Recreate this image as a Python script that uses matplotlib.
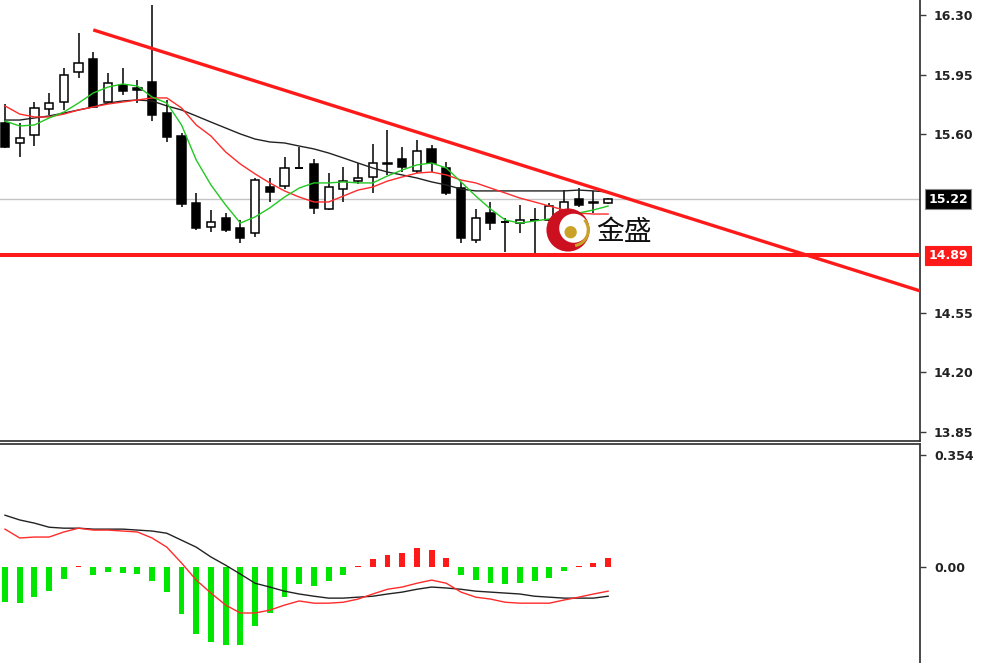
import matplotlib
matplotlib.use('Agg')
import matplotlib.pyplot as plt
import matplotlib.patches as patches
import matplotlib.transforms as mtransforms
import numpy as np

# ---------------------------------------------------------------------------
# Data
# ---------------------------------------------------------------------------
opens = [15.668, 15.550, 15.597, 15.750, 15.791, 15.968, 16.044, 15.791, 15.891, 15.873,
         15.909, 15.726, 15.591, 15.197, 15.056, 15.109, 15.050, 15.021, 15.291, 15.297,
         15.403, 15.426, 15.162, 15.279, 15.326, 15.350, 15.432, 15.456, 15.385, 15.515,
         15.403, 15.285, 14.979, 15.138, 15.085, 15.079, 15.097, 15.097, 15.144, 15.220,
         15.203, 15.197]
highs = [15.779, 15.668, 15.791, 15.844, 15.991, 16.197, 16.085, 15.962, 15.991, 15.920,
         16.362, 15.803, 15.609, 15.256, 15.156, 15.138, 15.097, 15.344, 15.344, 15.468,
         15.526, 15.456, 15.373, 15.409, 15.432, 15.544, 15.626, 15.526, 15.568, 15.538,
         15.438, 15.321, 15.162, 15.203, 15.109, 15.185, 15.168, 15.197, 15.273, 15.285,
         15.267, 15.226]
lows = [15.520, 15.468, 15.532, 15.715, 15.744, 15.932, 15.756, 15.785, 15.832, 15.785,
        15.679, 15.556, 15.173, 15.038, 15.026, 15.026, 14.962, 14.997, 15.203, 15.279,
        15.397, 15.132, 15.156, 15.203, 15.309, 15.256, 15.362, 15.379, 15.373, 15.379,
        15.244, 14.962, 14.962, 15.038, 14.909, 15.021, 14.903, 15.091, 15.097, 15.173,
        15.138, 15.191]
closes = [15.526, 15.579, 15.756, 15.785, 15.950, 16.020, 15.762, 15.903, 15.856, 15.862,
          15.715, 15.585, 15.191, 15.050, 15.085, 15.038, 14.991, 15.332, 15.262, 15.403,
          15.400, 15.168, 15.291, 15.326, 15.344, 15.432, 15.426, 15.409, 15.503, 15.432,
          15.256, 14.991, 15.109, 15.079, 15.083, 15.097, 15.095, 15.179, 15.203, 15.185,
          15.197, 15.220]

ma_fast = [15.679, 15.650, 15.656, 15.697, 15.732, 15.785, 15.844, 15.879, 15.897, 15.885,
           15.820, 15.785, 15.656, 15.450, 15.303, 15.185, 15.079, 15.115, 15.168, 15.232,
           15.285, 15.315, 15.315, 15.321, 15.315, 15.315, 15.356, 15.391, 15.421, 15.432,
           15.403, 15.321, 15.238, 15.162, 15.097, 15.079, 15.091, 15.103, 15.115, 15.138,
           15.156, 15.179]
ma_mid = [15.768, 15.720, 15.703, 15.703, 15.720, 15.744, 15.762, 15.779, 15.791, 15.803,
          15.815, 15.815, 15.756, 15.656, 15.591, 15.497, 15.426, 15.368, 15.315, 15.268,
          15.232, 15.203, 15.203, 15.238, 15.273, 15.291, 15.326, 15.350, 15.373, 15.379,
          15.362, 15.332, 15.315, 15.285, 15.256, 15.226, 15.203, 15.179, 15.156, 15.138,
          15.132, 15.132]
ma_slow = [15.685, 15.685, 15.697, 15.709, 15.726, 15.744, 15.762, 15.785, 15.797, 15.803,
           15.797, 15.768, 15.744, 15.709, 15.673, 15.638, 15.603, 15.573, 15.556, 15.550,
           15.532, 15.515, 15.491, 15.462, 15.432, 15.403, 15.379, 15.362, 15.344, 15.321,
           15.303, 15.279, 15.268, 15.268, 15.268, 15.268, 15.268, 15.268, 15.268, 15.273,
           15.268, 15.262]

macd_hist = [-0.111, -0.114, -0.095, -0.076, -0.038, 0.002, -0.025, -0.016, -0.019, -0.022,
             -0.044, -0.079, -0.149, -0.212, -0.237, -0.246, -0.246, -0.186, -0.145, -0.095,
             -0.054, -0.060, -0.044, -0.025, 0.002, 0.025, 0.038, 0.044, 0.060, 0.054,
             0.028, -0.025, -0.041, -0.051, -0.054, -0.051, -0.044, -0.035, -0.013, 0.003,
             0.013, 0.028]
macd_slow = [0.164, 0.149, 0.139, 0.126, 0.123, 0.123, 0.120, 0.120, 0.120, 0.117,
             0.114, 0.107, 0.085, 0.063, 0.032, 0.006, -0.022, -0.051, -0.063, -0.076,
             -0.085, -0.092, -0.098, -0.098, -0.095, -0.092, -0.085, -0.079, -0.070, -0.063,
             -0.066, -0.070, -0.076, -0.079, -0.082, -0.085, -0.092, -0.095, -0.098, -0.098,
             -0.098, -0.092]
macd_fast = [0.120, 0.092, 0.095, 0.095, 0.111, 0.123, 0.117, 0.117, 0.114, 0.111,
             0.092, 0.063, 0.013, -0.041, -0.082, -0.120, -0.145, -0.145, -0.136, -0.120,
             -0.107, -0.114, -0.114, -0.111, -0.101, -0.085, -0.070, -0.063, -0.051, -0.041,
             -0.051, -0.079, -0.095, -0.101, -0.111, -0.114, -0.114, -0.114, -0.104, -0.095,
             -0.085, -0.076]

trend_x = [6.0, 62.2]
trend_y = [16.215, 14.68]
support_level = 14.89
last_price = 15.22
price_ticks = [13.85, 14.20, 14.55, 15.60, 15.95, 16.30]

# ---------------------------------------------------------------------------
# Layout
# ---------------------------------------------------------------------------
W, H = 981, 663
fig = plt.figure(figsize=(W / 100, H / 100), dpi=100)
fig.patch.set_facecolor('white')

right_px = 920
ax = fig.add_axes([0, 1 - 441 / H, right_px / W, 441 / H])
ax2 = fig.add_axes([0, 0, right_px / W, (H - 444) / H])

SPINE = '#3a3a3a'
TXT = '#222222'
n = len(opens)
idx = np.arange(n)

# --- candles ---
body_w = 0.56
for i in range(n):
    o, h, l, c = opens[i], highs[i], lows[i], closes[i]
    ax.vlines(i, l, h, color='black', linewidth=1.1, zorder=4)
    bottom = min(o, c)
    height = abs(c - o)
    if height < 0.004:
        ax.hlines(bottom, i - body_w / 2, i + body_w / 2, color='black', linewidth=1.4, zorder=5)
    else:
        face = 'black' if c < o else 'white'
        ax.add_patch(patches.Rectangle((i - body_w / 2, bottom), body_w, height,
                                       facecolor=face, edgecolor='black', linewidth=1.1, zorder=5))

# --- moving averages ---
ax.plot(idx, ma_slow, color='#222222', linewidth=1.0, zorder=6)
ax.plot(idx, ma_mid, color='#ff2a2a', linewidth=1.0, zorder=6)
ax.plot(idx, ma_fast, color='#22c822', linewidth=1.0, zorder=6)

# --- current price / support / trend lines ---
ax.axhline(last_price, color='#c4c4c4', linewidth=1.0, zorder=1)
ax.axhline(support_level, color='#ff1a1a', linewidth=2.9, zorder=7)
ax.plot(trend_x, trend_y, color='#ff1a1a', linewidth=2.4, zorder=7, solid_capstyle='butt')

ax.set_xlim(-0.34, 62.2)
ax.set_ylim(13.797, 16.391)

for s in ['left', 'top']:
    ax.spines[s].set_visible(False)
for s in ['right', 'bottom']:
    ax.spines[s].set_color(SPINE)
    ax.spines[s].set_linewidth(1.3)
ax.set_xticks([])
ax.yaxis.tick_right()
ax.set_yticks(price_ticks)
ax.set_yticklabels([f'{v:.2f}' for v in price_ticks], fontweight='bold')
ax.tick_params(axis='y', direction='out', length=4, width=1, color=SPINE,
               labelsize=9, labelcolor=TXT, pad=6)

# price tags on the axis
blend = mtransforms.blended_transform_factory(ax.transAxes, ax.transData)
ax.text(1.009, last_price, f'{last_price:.2f}', transform=blend, color='white',
        fontsize=9, fontweight='bold', va='center', ha='left', zorder=10, clip_on=False,
        bbox=dict(boxstyle='square,pad=0.25', facecolor='black', edgecolor='#888888', linewidth=0.8))
ax.text(1.009, support_level, f'{support_level:.2f}', transform=blend, color='white',
        fontsize=9, fontweight='bold', va='center', ha='left', zorder=10, clip_on=False,
        bbox=dict(boxstyle='square,pad=0.25', facecolor='#ff1a1a', edgecolor='#ff1a1a', linewidth=0.8))

# --- MACD panel ---
hist_colors = ['#ff1a1a' if v >= 0 else '#00e600' for v in macd_hist]
ax2.bar(idx, macd_hist, width=0.4, color=hist_colors, zorder=3)
ax2.plot(idx, macd_slow, color='#222222', linewidth=1.0, zorder=4)
ax2.plot(idx, macd_fast, color='#ff2a2a', linewidth=1.0, zorder=4)

ax2.set_xlim(-0.34, 62.2)
ax2.set_ylim(-0.303, 0.389)
for s in ['left', 'bottom']:
    ax2.spines[s].set_visible(False)
for s in ['right', 'top']:
    ax2.spines[s].set_color(SPINE)
    ax2.spines[s].set_linewidth(1.3)
ax2.set_xticks([])
ax2.yaxis.tick_right()
ax2.set_yticks([0.0, 0.354])
ax2.set_yticklabels(['0.00', '0.354'], fontweight='bold')
ax2.tick_params(axis='y', direction='out', length=4, width=1, color=SPINE,
                labelsize=9, labelcolor=TXT, pad=6)

# --- watermark logo ---
lax = fig.add_axes([546 / W, 1 - 252 / H, 44 / W, 44 / H])
lax.set_xlim(0, 1)
lax.set_ylim(0, 1)
lax.axis('off')
lax.patch.set_alpha(0)
lax.add_patch(patches.Circle((0.5, 0.5), 0.49, facecolor='#cc1020', edgecolor='none'))
lax.add_patch(patches.Circle((0.63, 0.54), 0.33, facecolor='white', edgecolor='none'))
lax.add_patch(patches.Arc((0.6, 0.5), 0.72, 0.72, theta1=-80, theta2=40,
                          color='#c9a227', linewidth=2.2))
lax.add_patch(patches.Circle((0.56, 0.45), 0.14, facecolor='#c9a227', edgecolor='none'))

fig.text(596 / W, 1 - 232 / H, '金盛', fontsize=20, color='#111111', va='center', ha='left',
         family=['Noto Sans CJK SC', 'DejaVu Sans'])

fig.savefig('out.png', dpi=100, facecolor='white')
plt.close(fig)
